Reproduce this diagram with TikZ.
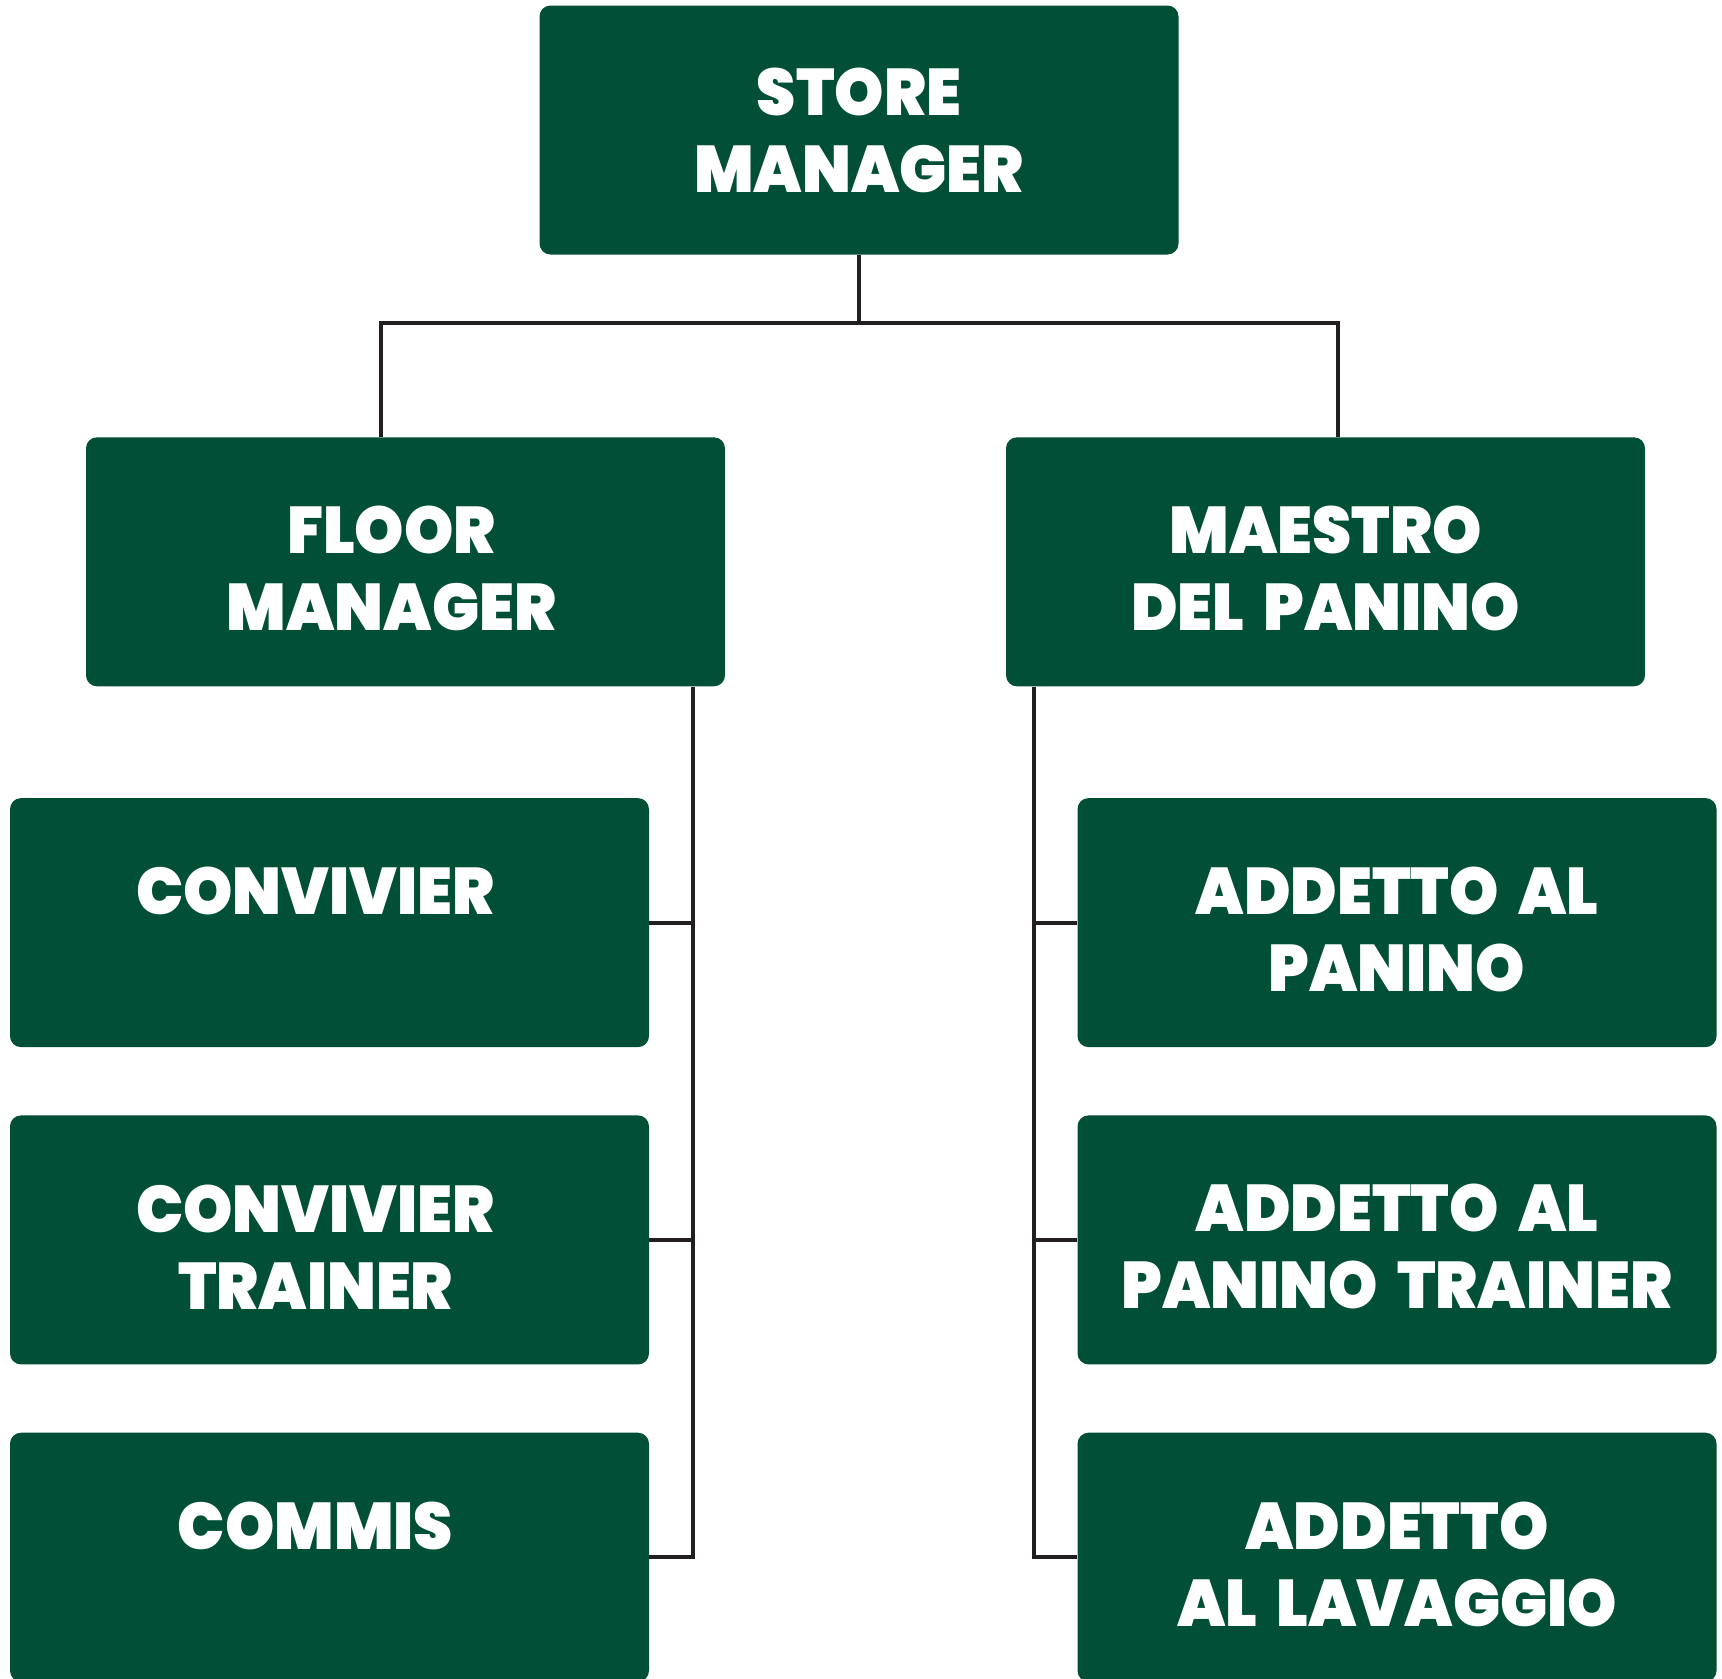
\documentclass[tikz,border=0pt]{standalone}
\usepackage{fontspec}
\newfontfamily\chartfont{Poppins Black}[FakeStretch=0.95, WordSpace=1.8]
\usetikzlibrary{positioning}
\definecolor{boxgreen}{RGB}{2,79,56}
\definecolor{linegray}{RGB}{35,31,32}

\begin{document}
\begin{tikzpicture}[
  rolebox/.style={fill=boxgreen, rounded corners=5.5pt, inner sep=0pt,
    minimum width=319.5pt, minimum height=124.5pt},
  roletext/.style={text=white, align=center, inner sep=0pt,
    font=\chartfont\fontsize{33}{38.5}\selectfont},
  leftcol/.style={roletext, xshift=-7pt, yshift=-3.5pt},
  rightcol/.style={roletext, yshift=-3.5pt},
  oneline/.style={yshift=19.25pt},
  link/.style={draw=linegray, line width=2pt}
]
\useasboundingbox (0,0) rectangle (861pt,-839pt);

% boxes
\node[rolebox] (store) at (429.5pt,-65pt) {};
\node[rolebox, below=91pt of store, xshift=-226.75pt] (floor) {};
\node[rolebox, below=91pt of store, xshift=233.25pt] (maestro) {};

\node[rolebox, below=55.5pt of floor, xshift=-38pt] (convivier) {};
\node[rolebox, below=33.75pt of convivier] (convtrainer) {};
\node[rolebox, below=33.75pt of convtrainer] (commis) {};

\node[rolebox, below=55.5pt of maestro, xshift=35.75pt] (addetto) {};
\node[rolebox, below=33.75pt of addetto] (addtrainer) {};
\node[rolebox, below=33.75pt of addtrainer] (lavaggio) {};

% labels
\node[roletext] (store-txt) at (store) {STORE\\MANAGER};
\node[leftcol] (floor-txt) at (floor) {FLOOR\\MANAGER};
\node[rightcol] (maestro-txt) at (maestro) {MAESTRO\\DEL PANINO};
\node[leftcol, oneline] (convivier-txt) at (convivier) {CONVIVIER};
\node[leftcol] (convtrainer-txt) at (convtrainer) {CONVIVIER\\TRAINER};
\node[leftcol, oneline] (commis-txt) at (commis) {COMMIS};
\node[rightcol] (addetto-txt) at (addetto) {ADDETTO AL\\PANINO};
\node[rightcol] (addtrainer-txt) at (addtrainer) {ADDETTO AL\\PANINO TRAINER};
\node[rightcol] (lavaggio-txt) at (lavaggio) {ADDETTO\\AL LAVAGGIO};

% store manager to the two managers
\coordinate[below=34pt of store] (split);
\coordinate (ldrop) at ([xshift=-12.25pt]floor.north);
\coordinate (rdrop) at ([xshift=6pt]maestro.north);
\draw[link] (store.south) -- (split);
\draw[link] (ldrop) |- (split) -| (rdrop);

% floor manager side
\coordinate (ltrunk) at ([xshift=-16pt]floor.south east);
\draw[link] (ltrunk) |- (commis.east);
\draw[link] (convivier.east) -- (convivier.east -| ltrunk);
\draw[link] (convtrainer.east) -- (convtrainer.east -| ltrunk);

% maestro side
\coordinate (rtrunk) at ([xshift=14.25pt]maestro.south west);
\draw[link] (rtrunk) |- (lavaggio.west);
\draw[link] (addetto.west) -- (addetto.west -| rtrunk);
\draw[link] (addtrainer.west) -- (addtrainer.west -| rtrunk);

\end{tikzpicture}
\end{document}
